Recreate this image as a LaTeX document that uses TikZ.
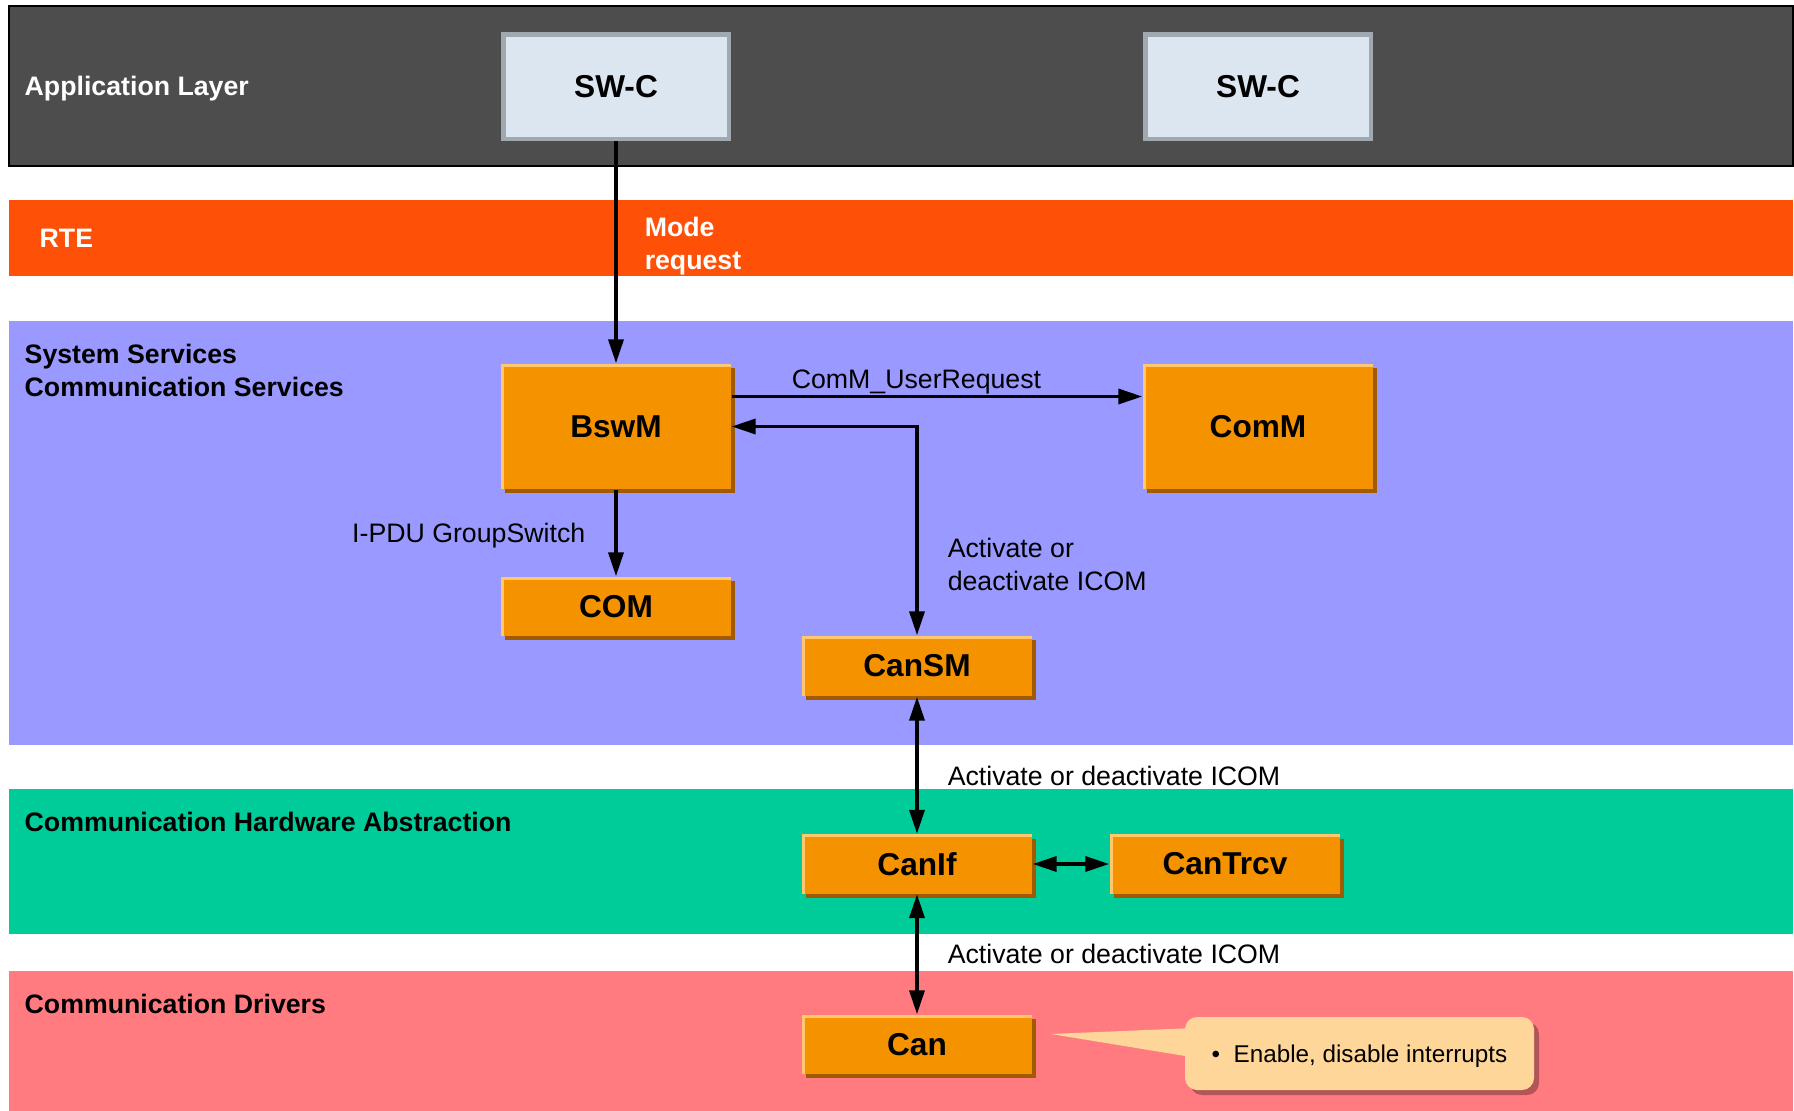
\documentclass[tikz,border=0pt]{standalone}
\usepackage{fontspec}
\setmainfont{Liberation Sans}
\usetikzlibrary{arrows.meta, positioning, shadows, calc}
\definecolor{appgray}{RGB}{77, 77, 77}
\definecolor{rteorange}{RGB}{255, 80, 8}
\definecolor{sysblue}{RGB}{153, 153, 255}
\definecolor{hwgreen}{RGB}{0, 204, 153}
\definecolor{drvred}{RGB}{255, 123, 128}
\definecolor{boxorange}{RGB}{245, 146, 0}
\definecolor{boxlight}{RGB}{255, 200, 110}
\definecolor{boxshade}{RGB}{160, 90, 0}
\definecolor{swcfill}{RGB}{220, 230, 240}
\definecolor{swcedge}{RGB}{160, 168, 176}
\definecolor{notefill}{RGB}{255, 214, 153}

\begin{document}
\begin{tikzpicture}[
    layer/.style={rectangle, minimum width=17.84cm, inner sep=0pt, outer sep=0pt},
    lyrlbl/.style={anchor=west, align=left, inner sep=0pt, text=#1, text depth=0pt,
                   font=\fontsize{7.6}{9.4}\selectfont\bfseries},
    swc/.style={rectangle, fill=swcfill, draw=swcedge, line width=0.045cm,
                minimum width=2.255cm, minimum height=1.045cm,
                font=\fontsize{9}{11}\selectfont\bfseries},
    bsw/.style={rectangle, fill=boxorange, minimum width=2.30cm, minimum height=#1,
                font=\fontsize{9}{11}\selectfont\bfseries,
                drop shadow={shadow xshift=0.04cm, shadow yshift=-0.04cm, fill=boxshade, opacity=1},
                path picture={\draw[boxlight, line width=0.05cm]
                  (path picture bounding box.south west) -- (path picture bounding box.north west)
                  -- (path picture bounding box.north east);}},
    bsw/.default=0.59cm,
    note/.style={rectangle, rounded corners=0.12cm, fill=notefill, text depth=0pt,
                 minimum width=3.49cm, minimum height=0.73cm,
                 font=\fontsize{6.9}{8.5}\selectfont,
                 drop shadow={shadow xshift=0.05cm, shadow yshift=-0.05cm, fill=black, opacity=0.3}},
    arr/.style={line width=0.035cm, -{Triangle[length=0.24cm, width=0.15cm]}},
    biarr/.style={line width=0.035cm, {Triangle[length=0.24cm, width=0.15cm]}-{Triangle[length=0.24cm, width=0.15cm]}},
    lbl/.style={font=\fontsize{7.6}{9.2}\selectfont, inner sep=0pt, align=left, text depth=0pt}
]
\useasboundingbox (0,0) rectangle (17.94,-11.11);

% Layers
\node[layer, fill=appgray, draw=black, line width=0.02cm, minimum height=1.60cm] (app) at (9.01,-0.86) {};
\node[layer, fill=rteorange, minimum height=0.76cm] (rte) at (9.01,-2.38) {};
\node[layer, fill=sysblue,   minimum height=4.24cm] (sys) at (9.01,-5.33) {};
\node[layer, fill=hwgreen,   minimum height=1.45cm] (hw)  at (9.01,-8.615) {};
\node[layer, fill=drvred,    minimum height=1.40cm] (drv) at (9.01,-10.41) {};

% Layer names
\node[lyrlbl=white] (applbl) at (0.24,-0.86) {Application Layer};
\node[lyrlbl=white] (rtelbl) at (0.39,-2.38) {RTE};
\node[lyrlbl=black] (syslbl) at (0.24,-3.70) {System Services\\Communication Services};
\node[lyrlbl=black] (hwlbl)  at (0.24,-8.22) {Communication Hardware Abstraction};
\node[lyrlbl=black] (drvlbl) at (0.24,-10.04) {Communication Drivers};

% Software components
\node[swc] (swc1) at ( 6.16,-0.865) {SW-C};
\node[swc] (swc2) at (12.58,-0.865) {SW-C};

% BSW modules
\node[bsw=1.25cm] (bswm)    at ( 6.16,-4.265) {BswM};
\node[bsw=1.25cm] (comm)    at (12.58,-4.265) {ComM};
\node[bsw]        (com)     at ( 6.16,-6.065) {COM};
\node[bsw=0.60cm] (cansm)   at ( 9.17,-6.66)  {CanSM};
\node[bsw]        (canif)   at ( 9.17,-8.64)  {CanIf};
\node[bsw]        (cantrcv) at (12.25,-8.64)  {CanTrcv};
\node[bsw]        (can)     at ( 9.17,-10.445) {Can};

% Callout
\node[note] (note) at (13.595,-10.535) {\textbullet\ \ Enable, disable interrupts};
\coordinate (tip) at (10.51,-10.34);
\fill[notefill] (tip) -- ([xshift=0.1cm, yshift=0.255cm]note.west)
    -- ([xshift=0.1cm, yshift=-0.04cm]note.west) -- cycle;

% Mode request
\draw[arr] (swc1) -- node[lyrlbl=white, pos=0.46, right=0.27cm] {Mode\\request} (bswm);

% BswM -> ComM
\draw[arr] ([yshift=0.3cm]bswm.east) -- node[lbl, pos=0.45, above=0.06cm] {ComM\_UserRequest} ([yshift=0.3cm]comm.west);

% CanSM <-> BswM
\draw[biarr] (bswm.east) -| node[lbl, pos=0.83, right=0.29cm] {Activate or\\deactivate ICOM} (cansm.north);

% BswM -> COM
\draw[arr] (bswm) -- node[lbl, midway, left=0.29cm] {I-PDU GroupSwitch} (com);

% CanSM <-> CanIf <-> Can
\draw[biarr] (cansm) -- node[lbl, pos=0.58, right=0.29cm] {Activate or deactivate ICOM} (canif);
\draw[biarr] (canif) -- node[lbl, midway, right=0.29cm] {Activate or deactivate ICOM} (can);

% CanIf <-> CanTrcv
\draw[biarr] (canif) -- (cantrcv);

\end{tikzpicture}
\end{document}
